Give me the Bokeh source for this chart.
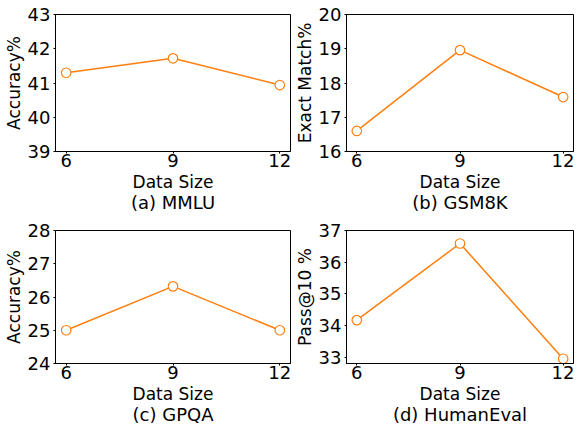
from bokeh.plotting import figure
from bokeh.layouts import gridplot
from bokeh.models import FixedTicker, Range1d, LinearAxis
from bokeh.embed import file_html
from bokeh.resources import INLINE

data_size = [6, 9, 12]
mmlu = [41.3, 41.72, 40.94]
gsm8k = [16.6, 18.96, 17.59]
gpqa = [25.0, 26.32, 25.0]
humaneval = [34.17, 36.59, 32.95]

panels = [
    ("(a) MMLU", "Accuracy%", mmlu, (39, 43), [39, 40, 41, 42, 43]),
    ("(b) GSM8K", "Exact Match%", gsm8k, (16, 20), [16, 17, 18, 19, 20]),
    ("(c) GPQA", "Accuracy%", gpqa, (24, 28), [24, 25, 26, 27, 28]),
    ("(d) HumanEval", "Pass@10 %", humaneval, (32.8, 37.0), [33, 34, 35, 36, 37]),
]

FONT = "DejaVu Sans"
ORANGE = "#ff7f0e"


def style_axis(ax):
    ax.axis_line_color = "black"
    ax.axis_line_width = 1
    ax.major_tick_out = 2
    ax.major_tick_in = 0
    ax.major_tick_line_color = "black"
    ax.minor_tick_line_color = None
    ax.major_label_text_font = FONT
    ax.major_label_text_font_size = "18px"
    ax.major_label_text_color = "black"
    ax.axis_label_text_font = FONT
    ax.axis_label_text_font_size = "17px"
    ax.axis_label_text_font_style = "normal"
    ax.axis_label_text_color = "black"


def make(title, ylabel, vals, yr, yticks, row, col):
    w = 291 if col == 0 else 283
    h = 215 if row == 0 else 212
    top = 14 if row == 0 else 15
    p = figure(width=w, height=h, output_backend="svg", toolbar_location=None,
               x_range=Range1d(5.7, 12.3), y_range=Range1d(*yr),
               min_border_left=52, min_border_right=1,
               min_border_top=top, min_border_bottom=0)
    p.xgrid.visible = False
    p.ygrid.visible = False
    p.outline_line_color = "black"
    p.outline_line_width = 1
    p.background_fill_color = "white"
    p.border_fill_color = "white"
    style_axis(p.xaxis[0])
    style_axis(p.yaxis[0])
    p.xaxis.ticker = FixedTicker(ticks=data_size)
    p.yaxis.ticker = FixedTicker(ticks=yticks)
    p.xaxis.axis_label = "Data Size"
    p.yaxis.axis_label = ylabel
    p.xaxis.major_label_standoff = 0
    p.xaxis.axis_label_standoff = 2
    p.yaxis.major_label_standoff = 3
    p.yaxis.axis_label_standoff = 1

    cap = LinearAxis(ticker=FixedTicker(ticks=[]), axis_label=title)
    cap.axis_line_color = None
    cap.major_tick_line_color = None
    cap.minor_tick_line_color = None
    cap.major_tick_out = 0
    cap.major_label_standoff = 0
    cap.axis_label_standoff = -3
    cap.axis_label_text_font = FONT
    cap.axis_label_text_font_size = "18px"
    cap.axis_label_text_font_style = "normal"
    cap.axis_label_text_color = "black"
    p.add_layout(cap, "below")

    p.line(data_size, vals, line_color=ORANGE, line_width=1.5)
    p.scatter(data_size, vals, marker="circle", size=9.5, fill_color="white",
              line_color=ORANGE, line_width=1.2)
    return p


figs = [make(*pn, row=i // 2, col=i % 2) for i, pn in enumerate(panels)]
grid = gridplot([[figs[0], figs[1]], [figs[2], figs[3]]], toolbar_location=None)

open("out.html", "w").write(file_html(grid, INLINE))
